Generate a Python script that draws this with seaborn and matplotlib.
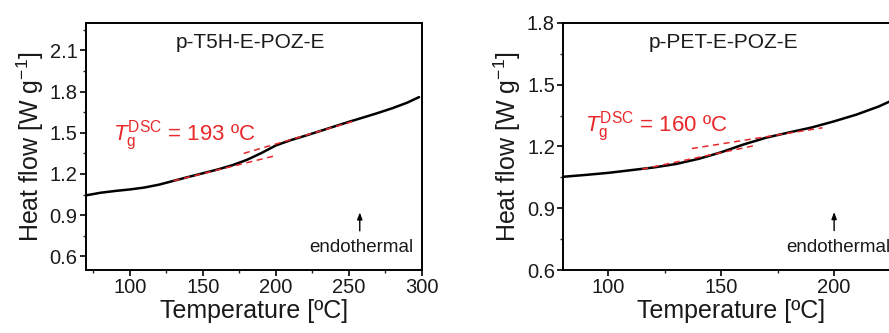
import numpy as np
import pandas as pd
import matplotlib
matplotlib.use("Agg")
import matplotlib.pyplot as plt
import seaborn as sns
from matplotlib.ticker import MultipleLocator

# ---- data ----
t5h_temp = [70, 80, 90, 100, 110, 120, 130, 140, 150, 160, 170, 180, 190,
            200, 210, 220, 230, 240, 250, 260, 270, 280, 290, 298]
t5h_flow = [1.044, 1.063, 1.076, 1.087, 1.101, 1.122, 1.150, 1.178, 1.205,
            1.232, 1.263, 1.302, 1.352, 1.408, 1.446, 1.478, 1.512, 1.546,
            1.580, 1.612, 1.645, 1.680, 1.720, 1.760]
t5h_tan_low_x = [130, 200]
t5h_tan_low_y = [1.150, 1.334]
t5h_tan_high_x = [178, 255]
t5h_tan_high_y = [1.350, 1.590]

pet_temp = [80, 90, 100, 110, 120, 130, 140, 150, 160, 170, 180, 190, 200,
            210, 220, 230]
pet_flow = [1.053, 1.062, 1.072, 1.085, 1.098, 1.115, 1.140, 1.172, 1.210,
            1.243, 1.268, 1.292, 1.322, 1.355, 1.395, 1.445]
pet_tan_low_x = [115, 166]
pet_tan_low_y = [1.090, 1.207]
pet_tan_high_x = [137, 195]
pet_tan_high_y = [1.190, 1.291]

titles = ["p-T5H-E-POZ-E", "p-PET-E-POZ-E"]
tg_values = [193, 160]

sns.set_style("white")
plt.rcParams['font.family'] = ['Liberation Sans', 'DejaVu Sans']
plt.rcParams['mathtext.fontset'] = 'custom'
plt.rcParams['mathtext.rm'] = 'Liberation Sans'
plt.rcParams['mathtext.it'] = 'Liberation Sans:italic'
plt.rcParams['mathtext.bf'] = 'Liberation Sans:bold'

fig = plt.figure(figsize=(8.89, 3.33), dpi=100)
axL = fig.add_axes([86 / 889, 63 / 333, 336 / 889, 247 / 333])
axR = fig.add_axes([563.3 / 889, 63 / 333, 336 / 889, 247 / 333])

red = "#e8282b"
txt = "#1a1a1a"

def style(ax, xlim, ylim, xmaj, ymaj):
    ax.set_xlim(*xlim)
    ax.set_ylim(*ylim)
    ax.xaxis.set_major_locator(MultipleLocator(xmaj))
    ax.xaxis.set_minor_locator(MultipleLocator(xmaj / 2))
    ax.yaxis.set_major_locator(MultipleLocator(ymaj))
    ax.yaxis.set_minor_locator(MultipleLocator(ymaj / 2))
    for s in ax.spines.values():
        s.set_visible(True)
        s.set_linewidth(1.4)
        s.set_color("black")
    ax.tick_params(which='major', direction='out', length=4, width=1.2,
                   labelsize=14.5, pad=2, color='black', labelcolor=txt,
                   left=True, bottom=True, top=False, right=False)
    ax.tick_params(which='minor', direction='out', length=2.5, width=1.0,
                   left=True, bottom=True, top=False, right=False)
    ax.set_xlabel("Temperature [ºC]", fontsize=18, labelpad=1, color=txt)
    ax.set_ylabel(r"Heat flow [W g$^{-1}$]", fontsize=18, labelpad=3, color=txt)

# Left panel
dfL = pd.DataFrame({"T": t5h_temp, "H": t5h_flow})
sns.lineplot(data=dfL, x="T", y="H", ax=axL, color="black", lw=1.8)
sns.lineplot(x=t5h_tan_low_x, y=t5h_tan_low_y, ax=axL, color=red, lw=1.1,
             linestyle=(0, (4, 3)))
sns.lineplot(x=t5h_tan_high_x, y=t5h_tan_high_y, ax=axL, color=red, lw=1.1,
             linestyle=(0, (4, 3)))
style(axL, (70, 300), (0.5, 2.3), 50, 0.3)
axL.text(0.488, 0.923, titles[0], transform=axL.transAxes, ha='center',
         va='center', fontsize=15, color=txt)
axL.text(88.5, 1.445, r"$T_\mathregular{g}^\mathregular{DSC}$" + f" = {tg_values[0]} ºC",
         color=red, fontsize=16, va='baseline', ha='left')
axL.annotate("", xy=(257.4, 0.94), xytext=(257.4, 0.765),
             arrowprops=dict(arrowstyle='-|>,head_length=0.4,head_width=0.15',
                             lw=1.0, color='black'))
axL.text(258.6, 0.631, "endothermal", ha='center', va='baseline',
         fontsize=13.5, color=txt)

# Right panel
dfR = pd.DataFrame({"T": pet_temp, "H": pet_flow})
sns.lineplot(data=dfR, x="T", y="H", ax=axR, color="black", lw=1.8)
sns.lineplot(x=pet_tan_low_x, y=pet_tan_low_y, ax=axR, color=red, lw=1.1,
             linestyle=(0, (4, 3)))
sns.lineplot(x=pet_tan_high_x, y=pet_tan_high_y, ax=axR, color=red, lw=1.1,
             linestyle=(0, (4, 3)))
style(axR, (80, 229), (0.6, 1.8), 50, 0.3)
axR.text(0.478, 0.923, titles[1], transform=axR.transAxes, ha='center',
         va='center', fontsize=15, color=txt)
axR.text(89.6, 1.271, r"$T_\mathregular{g}^\mathregular{DSC}$" + f" = {tg_values[1]} ºC",
         color=red, fontsize=16, va='baseline', ha='left')
axR.annotate("", xy=(200.1, 0.895), xytext=(200.1, 0.778),
             arrowprops=dict(arrowstyle='-|>,head_length=0.4,head_width=0.15',
                             lw=1.0, color='black'))
axR.text(179, 0.689, "endothermal", ha='left', va='baseline',
         fontsize=13.5, color=txt)

fig.savefig("out.png", dpi=100)
